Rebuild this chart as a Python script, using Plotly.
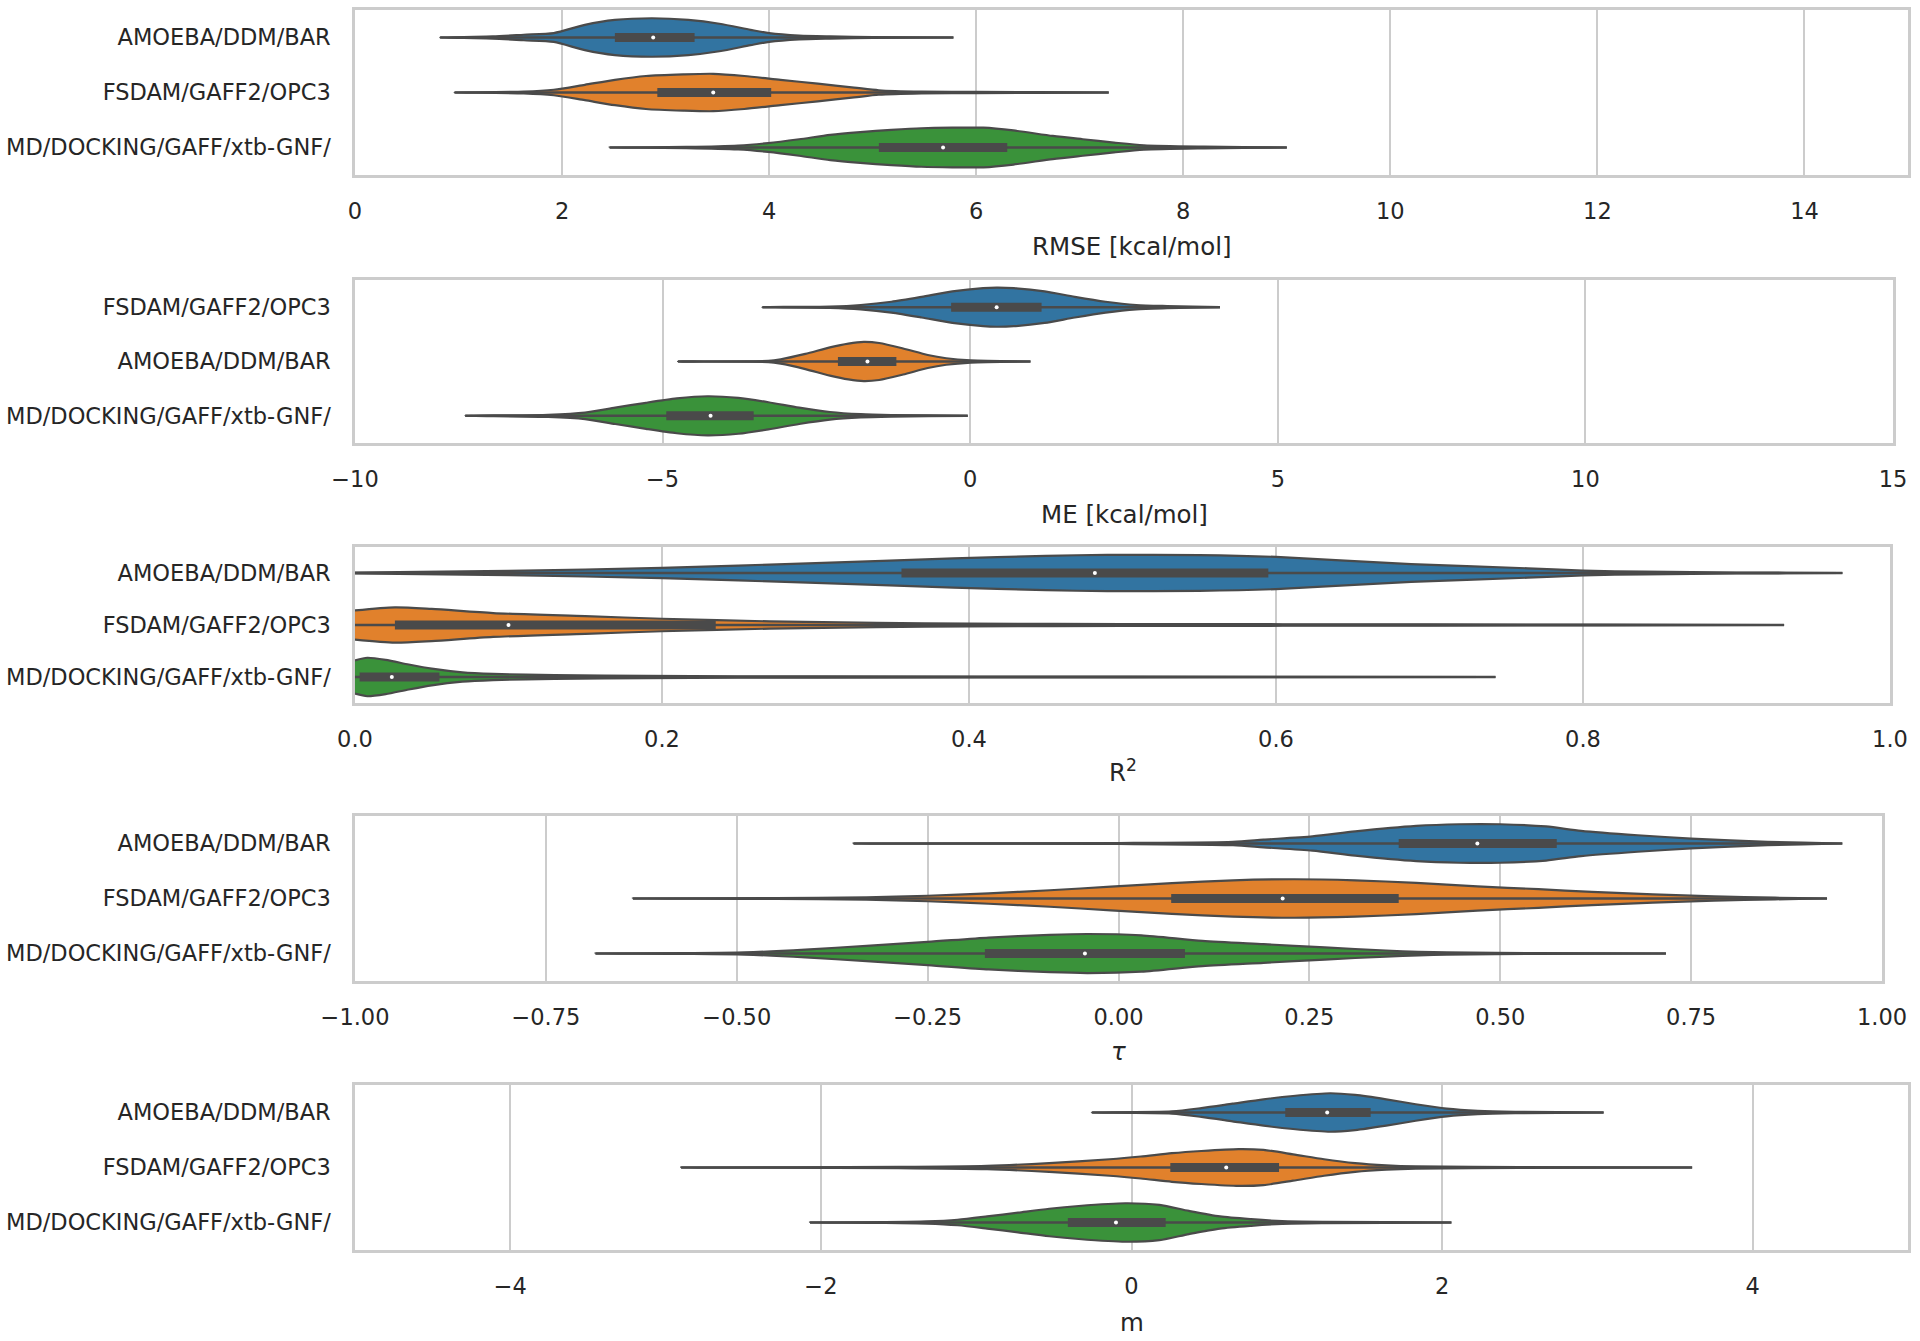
import plotly.graph_objects as go
from plotly.subplots import make_subplots

W, H = 1920, 1341

# ---------------- data ----------------
LABELS_A = ["AMOEBA/DDM/BAR", "FSDAM/GAFF2/OPC3", "MD/DOCKING/GAFF/xtb-GNF/"]
LABELS_B = ["FSDAM/GAFF2/OPC3", "AMOEBA/DDM/BAR", "MD/DOCKING/GAFF/xtb-GNF/"]

# RMSE [kcal/mol]
rmse_q1 = [2.51, 2.92, 5.06]
rmse_med = [2.88, 3.46, 5.68]
rmse_q3 = [3.28, 4.02, 6.30]
rmse_x = [
    [0.82, 1.33, 1.63, 1.92, 2.22, 2.51, 2.87, 3.22, 3.52, 3.82, 4.0, 4.29, 4.59, 5.0, 5.78],
    [0.96, 1.63, 1.92, 2.22, 2.51, 2.81, 3.17, 3.46, 3.76, 4.11, 4.47, 4.82, 5.06, 5.47, 6.0, 7.28],
    [2.46, 3.2, 3.70, 3.99, 4.29, 4.59, 4.88, 5.18, 5.47, 5.77, 6.07, 6.36, 6.74, 7.03, 7.33, 7.62, 8.2, 9.0],
]
rmse_hw = [
    [0.0, 0.02, 0.05, 0.08, 0.23, 0.32, 0.35, 0.32, 0.25, 0.14, 0.08, 0.035, 0.02, 0.008, 0.0],
    [0.0, 0.015, 0.05, 0.14, 0.23, 0.30, 0.33, 0.34, 0.30, 0.23, 0.16, 0.09, 0.04, 0.015, 0.01, 0.0],
    [0.0, 0.01, 0.035, 0.08, 0.15, 0.23, 0.28, 0.32, 0.35, 0.36, 0.36, 0.31, 0.21, 0.15, 0.09, 0.04, 0.015, 0.0],
]

# ME [kcal/mol]
me_q1 = [-0.31, -2.15, -4.94]
me_med = [0.43, -1.67, -4.22]
me_q3 = [1.16, -1.20, -3.52]
me_x = [
    [-3.38, -2.28, -1.78, -1.28, -0.79, -0.29, 0.21, 0.43, 0.71, 1.21, 1.70, 2.20, 2.70, 3.20, 4.06],
    [-4.75, -3.28, -3.08, -2.68, -2.28, -1.98, -1.73, -1.48, -1.09, -0.69, -0.39, 0.01, 0.98],
    [-8.21, -6.86, -6.26, -5.77, -5.27, -4.77, -4.27, -3.77, -3.28, -2.78, -2.28, -1.78, -1.28, -0.04],
]
me_hw = [
    [0.0, 0.012, 0.04, 0.10, 0.19, 0.29, 0.35, 0.36, 0.35, 0.29, 0.19, 0.10, 0.04, 0.02, 0.0],
    [0.0, 0.01, 0.04, 0.14, 0.26, 0.33, 0.36, 0.34, 0.24, 0.12, 0.06, 0.02, 0.0],
    [0.0, 0.02, 0.06, 0.15, 0.24, 0.32, 0.36, 0.33, 0.25, 0.15, 0.07, 0.03, 0.015, 0.0],
]

# R^2
r2_q1 = [0.356, 0.026, 0.003]
r2_med = [0.482, 0.100, 0.024]
r2_q3 = [0.595, 0.235, 0.055]
r2_x = [
    [0.0, 0.1, 0.2, 0.3, 0.39, 0.45, 0.49, 0.55, 0.6, 0.688, 0.764, 0.80, 0.84, 0.9, 0.969],
    [0.0, 0.026, 0.05, 0.09, 0.15, 0.2, 0.27, 0.34, 0.4, 0.5, 0.7, 0.931],
    [0.0, 0.008, 0.02, 0.035, 0.05, 0.07, 0.09, 0.13, 0.19, 0.3, 0.5, 0.743],
]
r2_hw = [
    [0.008, 0.04, 0.10, 0.19, 0.28, 0.33, 0.35, 0.345, 0.31, 0.17, 0.09, 0.045, 0.025, 0.01, 0.0],
    [0.28, 0.34, 0.31, 0.23, 0.17, 0.12, 0.07, 0.04, 0.025, 0.018, 0.012, 0.0],
    [0.32, 0.37, 0.33, 0.24, 0.16, 0.09, 0.06, 0.035, 0.02, 0.012, 0.008, 0.0],
]

# tau
tau_q1 = [0.367, 0.069, -0.175]
tau_med = [0.470, 0.215, -0.044]
tau_q3 = [0.574, 0.367, 0.087]
tau_x = [
    [-0.347, 0.0, 0.15, 0.19, 0.254, 0.31, 0.39, 0.446, 0.50, 0.56, 0.606, 0.68, 0.75, 0.85, 0.948],
    [-0.636, -0.45, -0.33, -0.25, -0.17, -0.09, -0.01, 0.07, 0.15, 0.23, 0.31, 0.39, 0.47, 0.55, 0.62, 0.70, 0.78, 0.86, 0.928],
    [-0.685, -0.57, -0.49, -0.41, -0.33, -0.25, -0.17, -0.09, -0.04, 0.03, 0.11, 0.19, 0.27, 0.35, 0.43, 0.55, 0.717],
]
tau_hw = [
    [0.0, 0.008, 0.03, 0.07, 0.13, 0.22, 0.32, 0.35, 0.35, 0.31, 0.23, 0.15, 0.09, 0.03, 0.0],
    [0.0, 0.008, 0.022, 0.05, 0.095, 0.15, 0.215, 0.28, 0.33, 0.35, 0.33, 0.285, 0.22, 0.17, 0.12, 0.075, 0.04, 0.015, 0.0],
    [0.0, 0.008, 0.02, 0.07, 0.14, 0.21, 0.29, 0.34, 0.355, 0.33, 0.23, 0.17, 0.11, 0.055, 0.02, 0.008, 0.0],
]

# m
m_q1 = [0.99, 0.25, -0.41]
m_med = [1.26, 0.61, -0.10]
m_q3 = [1.54, 0.95, 0.22]
m_x = [
    [-0.256, 0.26, 0.45, 0.65, 0.85, 1.04, 1.28, 1.44, 1.64, 1.83, 2.03, 2.23, 2.47, 3.04],
    [-2.90, -1.5, -0.93, -0.53, -0.14, 0.06, 0.26, 0.45, 0.69, 0.85, 1.04, 1.24, 1.44, 1.64, 1.83, 2.5, 3.61],
    [-2.07, -1.6, -1.32, -1.12, -0.93, -0.73, -0.53, -0.34, -0.04, 0.18, 0.37, 0.57, 0.77, 0.97, 1.24, 2.06],
]
m_hw = [
    [0.0, 0.02, 0.08, 0.16, 0.24, 0.30, 0.35, 0.32, 0.24, 0.15, 0.07, 0.03, 0.012, 0.0],
    [0.0, 0.01, 0.03, 0.08, 0.15, 0.20, 0.26, 0.30, 0.335, 0.32, 0.24, 0.15, 0.08, 0.04, 0.02, 0.008, 0.0],
    [0.0, 0.008, 0.02, 0.05, 0.11, 0.18, 0.25, 0.30, 0.35, 0.32, 0.21, 0.11, 0.06, 0.025, 0.012, 0.0],
]

# axes
x_titles = ["RMSE [kcal/mol]", "ME [kcal/mol]", "R<sup>2</sup>", "<i>τ</i>", "m"]
x_ranges = [[0, 15], [-10, 15], [0, 1], [-1, 1], [-5, 5]]
x_tickvals = [
    [0, 2, 4, 6, 8, 10, 12, 14],
    [-10, -5, 0, 5, 10, 15],
    [0, 0.2, 0.4, 0.6, 0.8, 1.0],
    [-1, -0.75, -0.5, -0.25, 0, 0.25, 0.5, 0.75, 1.0],
    [-4, -2, 0, 2, 4],
]
x_ticktext = [
    ["0", "2", "4", "6", "8", "10", "12", "14"],
    ["−10", "−5", "0", "5", "10", "15"],
    ["0.0", "0.2", "0.4", "0.6", "0.8", "1.0"],
    ["−1.00", "−0.75", "−0.50", "−0.25", "0.00", "0.25", "0.50", "0.75", "1.00"],
    ["−4", "−2", "0", "2", "4"],
]
panel_labels = [LABELS_A, LABELS_B, LABELS_A, LABELS_A, LABELS_A]

# ---------------- styling / layout ----------------
COLORS = ["#3274a1", "#e1812c", "#3a923a"]
GRAY = "#4a4a4a"
GRID = "#cccccc"
TEXT = "#262626"
FONT = "DejaVu Sans"

# pixel frames of each panel: (left, right, top, bottom)
frames = [
    (355, 1908, 10, 175),
    (355, 1893, 280, 443),
    (355, 1890, 547, 703),
    (355, 1882, 816, 981),
    (355, 1908, 1085, 1250),
]
title_y = [246, 515, 771, 1051, 1322]

panels = [
    (rmse_x, rmse_hw, rmse_q1, rmse_med, rmse_q3),
    (me_x, me_hw, me_q1, me_med, me_q3),
    (r2_x, r2_hw, r2_q1, r2_med, r2_q3),
    (tau_x, tau_hw, tau_q1, tau_med, tau_q3),
    (m_x, m_hw, m_q1, m_med, m_q3),
]

fig = make_subplots(rows=5, cols=1)

for p, (xs_all, hw_all, q1s, meds, q3s) in enumerate(panels):
    row = p + 1
    for i in range(3):
        xs = xs_all[i]
        hw = hw_all[i]
        pos = i
        px = list(xs) + list(xs[::-1])
        py = [pos - h for h in hw] + [pos + h for h in hw[::-1]]
        fig.add_trace(go.Scatter(
            x=px, y=py, mode="lines", fill="toself", fillcolor=COLORS[i],
            line=dict(color=GRAY, width=2.2, shape="spline", smoothing=0.7),
            hoverinfo="skip", showlegend=False), row=row, col=1)
        # whisker / tail line
        fig.add_trace(go.Scatter(
            x=[xs[0], xs[-1]], y=[pos, pos], mode="lines",
            line=dict(color=GRAY, width=2.5), hoverinfo="skip", showlegend=False),
            row=row, col=1)
        # box
        fig.add_trace(go.Scatter(
            x=[q1s[i], q3s[i]], y=[pos, pos], mode="lines",
            line=dict(color=GRAY, width=9), hoverinfo="skip", showlegend=False),
            row=row, col=1)
        # median
        fig.add_trace(go.Scatter(
            x=[meds[i]], y=[pos], mode="markers",
            marker=dict(color="white", size=4, line=dict(width=0)),
            hoverinfo="skip", showlegend=False), row=row, col=1)

annotations = []
for p in range(5):
    l, r, t, b = frames[p]
    xa = "xaxis" if p == 0 else f"xaxis{p + 1}"
    ya = "yaxis" if p == 0 else f"yaxis{p + 1}"
    fig.layout[xa].update(
        domain=[l / W, r / W], range=x_ranges[p], automargin=False,
        tickmode="array", tickvals=x_tickvals[p], ticktext=x_ticktext[p],
        showgrid=True, gridcolor=GRID, gridwidth=2, zeroline=False,
        showline=True, mirror=True, linecolor=GRID, linewidth=2.5,
        ticks="", ticklabelstandoff=14,
        tickfont=dict(family=FONT, size=22.5, color=TEXT),
    )
    fig.layout[ya].update(
        domain=[1 - b / H, 1 - t / H], range=[2.5, -0.5], automargin=False,
        tickmode="array", tickvals=[0, 1, 2], ticktext=panel_labels[p],
        showgrid=False, zeroline=False,
        showline=True, mirror=True, linecolor=GRID, linewidth=2.5,
        ticks="", ticklabelstandoff=17,
        tickfont=dict(family=FONT, size=22.5, color=TEXT),
    )
    annotations.append(dict(
        text=x_titles[p], xref="paper", yref="paper",
        x=(l + r) / 2 / W, y=1 - title_y[p] / H,
        xanchor="center", yanchor="middle", showarrow=False,
        font=dict(family=FONT, size=24.5, color=TEXT)))

fig.update_layout(
    width=W, height=H,
    margin=dict(l=0, r=0, t=0, b=0, autoexpand=False),
    plot_bgcolor="white", paper_bgcolor="white",
    showlegend=False,
    font=dict(family=FONT, color=TEXT),
    annotations=annotations,
)

fig.write_html("out.html", config={"displayModeBar": False},
               post_script="document.body.style.margin='0';")
